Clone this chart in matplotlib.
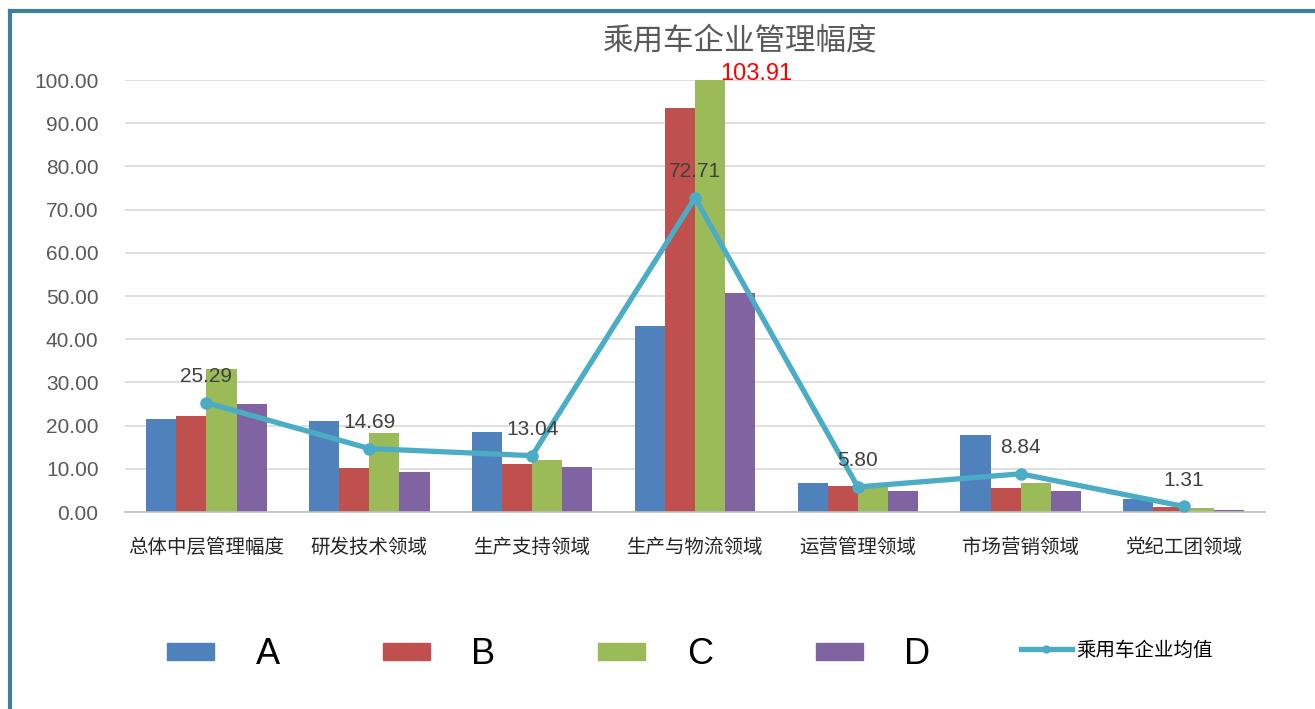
import matplotlib
matplotlib.use('Agg')
import matplotlib.pyplot as plt
from matplotlib.patches import Patch
from matplotlib.lines import Line2D
import numpy as np

plt.rcParams['font.family'] = ['Noto Sans CJK SC', 'DejaVu Sans']

# ---- data ----
categories = ['总体中层管理幅度', '研发技术领域', '生产支持领域', '生产与物流领域',
              '运营管理领域', '市场营销领域', '党纪工团领域']
series_names = ['A', 'B', 'C', 'D']
a_vals = [21.5, 21.1, 18.6, 43.0, 6.8, 17.8, 3.0]
b_vals = [22.3, 10.2, 11.1, 93.6, 6.0, 5.6, 1.2]
c_vals = [33.0, 18.3, 12.0, 103.91, 5.7, 6.8, 0.9]
d_vals = [25.0, 9.3, 10.4, 50.7, 4.9, 4.9, 0.5]
avg_vals = [25.29, 14.69, 13.04, 72.71, 5.80, 8.84, 1.31]
avg_name = '乘用车企业均值'
title = '乘用车企业管理幅度'

colors = ['#4F81BD', '#C0504D', '#9BBB59', '#8064A2']
line_color = '#4BACC6'

fig = plt.figure(figsize=(13.15, 7.09), dpi=100)
ax = fig.add_axes([125 / 1315, 1 - 512 / 709, 1140 / 1315, 432 / 709])

x = np.arange(len(categories))
w = 0.185
all_series = [a_vals, b_vals, c_vals, d_vals]
for i, vals in enumerate(all_series):
    ax.bar(x + (i - 1.5) * w, vals, width=w, color=colors[i], zorder=2)

ax.plot(x, avg_vals, color=line_color, lw=3.8, marker='o', ms=8, zorder=3)
for xi, v in zip(x, avg_vals):
    ax.annotate(f'{v:.2f}', (xi, v), xytext=(0, 12), textcoords='offset points',
                ha='center', va='bottom', fontsize=15, color='#404040',
                family='Liberation Sans', zorder=4)

# value of the clipped bar, next to its top
peak = int(np.argmax(c_vals))
ax.annotate(f'{c_vals[peak]:.2f}', (x[peak] + w - 0.03, 100), xytext=(0, 4),
            textcoords='offset points', ha='left', va='center', fontsize=17,
            color='#FF0000', family='Liberation Sans')

ax.set_xlim(-0.5, len(categories) - 0.5)
ax.set_ylim(0, 100)
ax.set_yticks(np.arange(0, 101, 10))
ax.set_yticklabels([f'{t:.2f}' for t in np.arange(0, 101, 10)],
                   fontsize=15, color='#595959', family='Liberation Sans')
ax.set_xticks(x)
ax.set_xticklabels(categories, fontsize=14, color='#262626')
ax.tick_params(axis='y', length=0, pad=19)
ax.tick_params(axis='x', length=0, pad=18)
ax.grid(axis='y', color='#D9D9D9', lw=1.2, zorder=0)
ax.set_axisbelow(True)
for s in ['left', 'right', 'top']:
    ax.spines[s].set_visible(False)
ax.spines['bottom'].set_color('#BFBFBF')
ax.spines['bottom'].set_linewidth(1.2)

fig.text(740 / 1315, 1 - 41 / 709, title, ha='center', va='center',
         fontsize=22, color='#595959')

# legend: bar series, then the average line as its own entry
bar_handles = [Patch(color=c) for c in colors]
leg1 = fig.legend(bar_handles, series_names, ncol=4, frameon=False,
                  loc='center', bbox_to_anchor=(549 / 1315, 1 - 655 / 709),
                  fontsize=26, handlelength=1.3, handleheight=0.33,
                  columnspacing=2.85, handletextpad=1.15,
                  prop={'family': 'Liberation Sans', 'size': 26})
line_handle = Line2D([], [], color=line_color, lw=3.8, marker='o', ms=5)
leg2 = fig.legend([line_handle], [avg_name], frameon=False, loc='center',
                  bbox_to_anchor=(1117 / 1315, 1 - 650 / 709), fontsize=14,
                  handlelength=2.6, handletextpad=0.25)

# teal frame on the left and top
fig.add_artist(Line2D([10 / 1315, 10 / 1315], [0, 1 - 11 / 709], color='#3E8097',
                      lw=3, transform=fig.transFigure))
fig.add_artist(Line2D([10 / 1315, 1], [1 - 11 / 709, 1 - 11 / 709], color='#3E8097',
                      lw=3, transform=fig.transFigure))

fig.savefig('out.png', dpi=100)
